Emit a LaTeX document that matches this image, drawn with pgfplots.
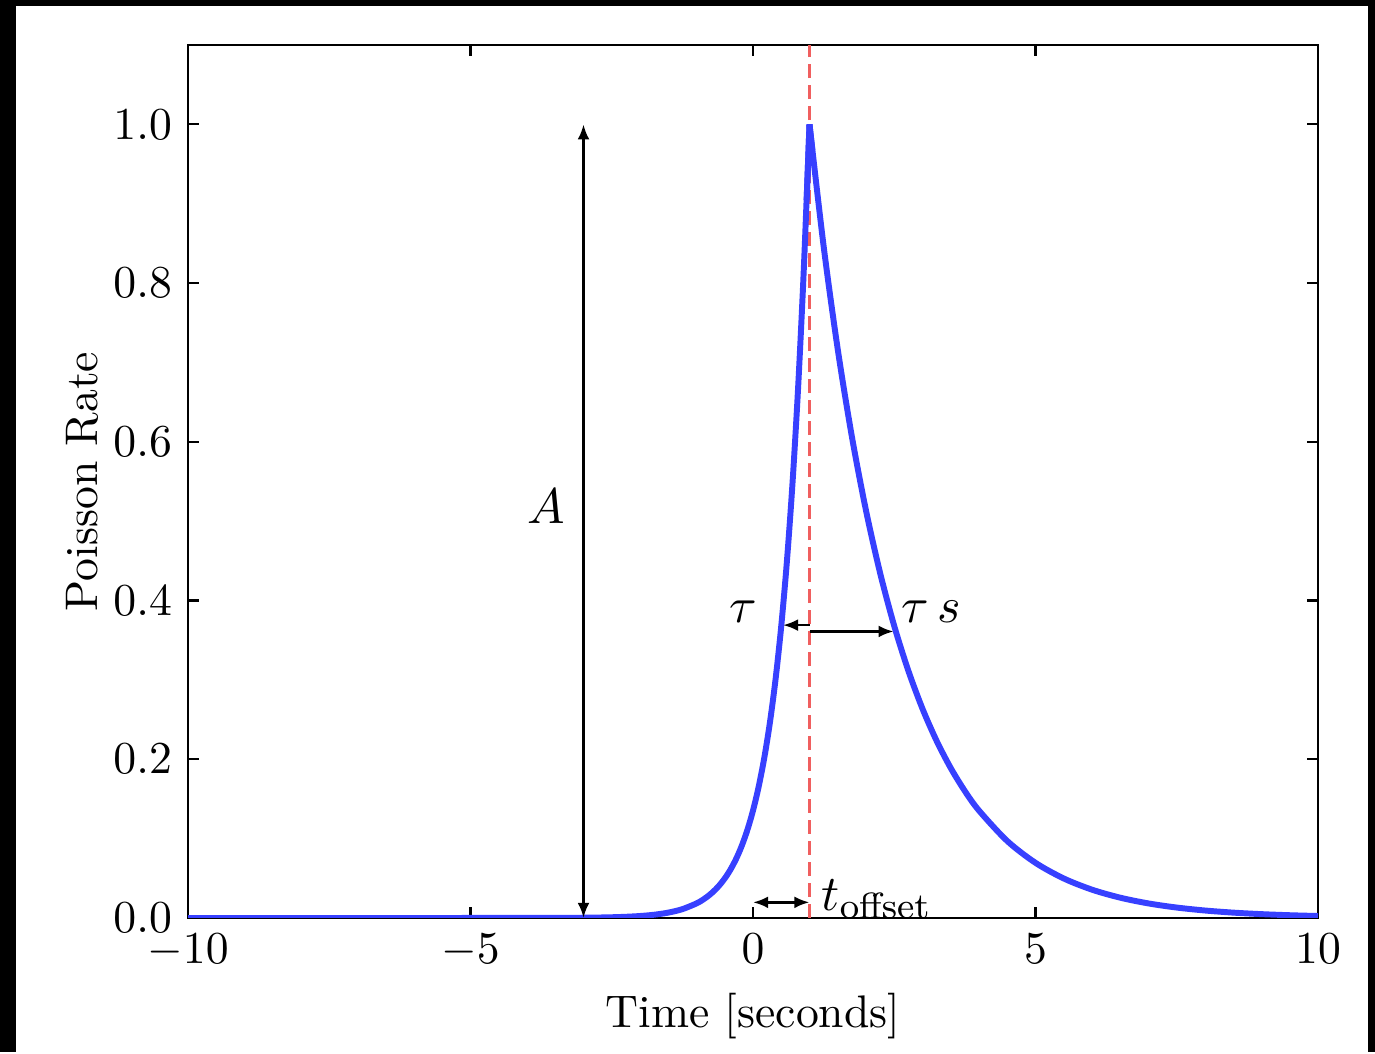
\documentclass[border=0pt]{standalone}
\usepackage{pgfplots}
\usepackage{pgfplotstable}
\pgfplotsset{compat=1.18}
\usetikzlibrary{arrows.meta}
\definecolor{curveblue}{RGB}{55,64,255}
\definecolor{dashred}{RGB}{240,95,95}

\pgfplotstableread{
t v
-10 0
-5 0.000006
-4 0.000045
-3.5 0.000123
-3 0.000335
-2.75 0.000553
-2.5 0.000912
-2.25 0.001503
-2 0.002479
-1.75 0.004087
-1.5 0.006738
-1.25 0.011109
-1 0.018316
-0.9 0.022371
-0.8 0.027324
-0.7 0.033373
-0.6 0.040762
-0.5 0.049787
-0.4 0.060810
-0.3 0.074274
-0.2 0.090718
-0.1 0.110803
0 0.135335
0.1 0.165299
0.2 0.201897
0.3 0.246597
0.4 0.301194
0.5 0.367879
0.6 0.449329
0.7 0.548812
0.8 0.670320
0.9 0.818731
1.0 1.0
}\rise

\pgfplotstableread{
t v
1.0 1.0
1.25 0.846482
1.5 0.716531
1.75 0.606531
2 0.513417
2.25 0.434598
2.5 0.367879
2.75 0.311403
3 0.263597
3.25 0.223130
3.5 0.188876
3.75 0.159880
4 0.135335
4.5 0.096972
5 0.069483
5.5 0.049787
6 0.035674
6.5 0.025561
7 0.018316
7.5 0.013124
8 0.009404
8.5 0.006738
9 0.004828
9.5 0.003460
10 0.002479
}\decay

\begin{document}
\begin{tikzpicture}
% frame of the reference picture
\fill[black] (-1.4462,-1.0308) rectangle (9.1308,7.0615);
\fill[white] (-1.3231,-1.0308) rectangle (9.0769,7.0154);
\begin{axis}[
  at={(0,0)}, anchor=south west,
  scale only axis, width=8.6923cm, height=6.7154cm,
  xmin=-10, xmax=10, ymin=0, ymax=1.1,
  xtick={-10,-5,0,5,10},
  ytick={0,0.2,0.4,0.6,0.8,1.0},
  yticklabel style={/pgf/number format/fixed, /pgf/number format/precision=1, /pgf/number format/fixed zerofill},
  tick align=inside, xtick pos=both, ytick pos=both,
  major tick length=0.0846cm,
  tick style={black, line width=0.46pt},
  axis line style={black, line width=0.46pt},
  tick label style={font=\normalsize},
  label style={font=\normalsize},
  xlabel={Time [seconds]},
  ylabel={Poisson Rate},
  xlabel style={at={(axis description cs:0.5,-0.1249)}, anchor=base},
  ylabel style={at={(axis description cs:-0.0805,0.5)}, anchor=base},
  clip mode=individual,
]
\addplot[dashred, line width=0.46pt, dash pattern=on 0.1077cm off 0.0538cm] coordinates {(1,0) (1,1.1)};
\addplot[curveblue, line width=1.3pt, smooth] table[x=t,y=v]{\rise};
\addplot[curveblue, line width=1.3pt, smooth] table[x=t,y=v]{\decay};
\addplot[curveblue, line width=1.3pt, line join=miter] coordinates {(0.95,0.904837) (1,1) (1.05,0.967216)};

\draw[black, line width=0.6pt, {Latex[length=3.3pt,width=2.6pt]}-{Latex[length=3.3pt,width=2.6pt]}] (axis cs:-3,1) -- (axis cs:-3,0);
\draw[black, line width=0.6pt, -{Latex[length=3.3pt,width=2.6pt]}] (axis cs:1,0.369) -- (axis cs:0.53,0.369);
\draw[black, line width=0.6pt, -{Latex[length=3.3pt,width=2.6pt]}] (axis cs:1,0.361) -- (axis cs:2.49,0.361);
\draw[black, line width=0.6pt, {Latex[length=3.3pt,width=2.6pt]}-{Latex[length=3.3pt,width=2.6pt]}] (axis cs:0,0.0197) -- (axis cs:1,0.0197);

\node[font=\fontsize{10.95}{13}\selectfont] at (axis cs:-3.66,0.518) {$A$};
\node[font=\fontsize{10.95}{13}\selectfont] at (axis cs:-0.18,0.386) {$\tau$};
\node[font=\fontsize{10.95}{13}\selectfont] at (axis cs:3.15,0.386) {$\tau\,s$};
\node[font=\fontsize{10.95}{13}\selectfont, anchor=base west, inner sep=0pt] at (axis cs:1.2,0.009) {$t_{\mathrm{offset}}$};
\end{axis}
\end{tikzpicture}
\end{document}
